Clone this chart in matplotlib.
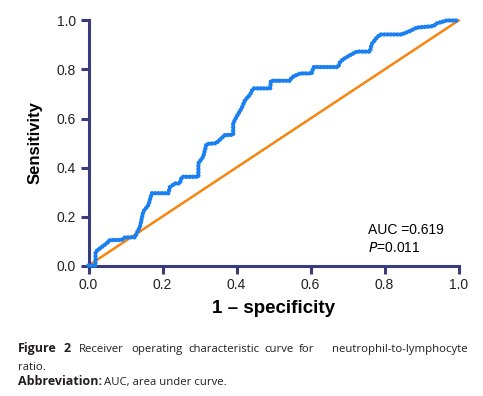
import matplotlib
matplotlib.use("Agg")
import matplotlib.pyplot as plt

# ROC curve points (1 - specificity, sensitivity)
fpr = [0.0, 0.019, 0.019, 0.031, 0.049, 0.058, 0.09, 0.099, 0.126, 0.13, 0.139, 0.148,
       0.162, 0.171, 0.216, 0.22, 0.234, 0.247, 0.252, 0.297, 0.297, 0.31, 0.319,
       0.345, 0.354, 0.369, 0.391, 0.391, 0.40, 0.414, 0.423, 0.436, 0.445, 0.491,
       0.493, 0.545, 0.549, 0.572, 0.603, 0.608, 0.675, 0.68, 0.693, 0.711, 0.725,
       0.761, 0.765, 0.779, 0.788, 0.846, 0.869, 0.887, 0.932, 0.941, 0.968, 1.0]
tpr = [0.0, 0.0, 0.056, 0.07, 0.09, 0.104, 0.104, 0.115, 0.115, 0.131, 0.158, 0.22,
       0.247, 0.295, 0.295, 0.32, 0.335, 0.335, 0.362, 0.362, 0.417, 0.444, 0.496,
       0.499, 0.512, 0.533, 0.533, 0.58, 0.607, 0.642, 0.675, 0.696, 0.723, 0.723,
       0.754, 0.754, 0.768, 0.784, 0.784, 0.81, 0.81, 0.832, 0.846, 0.862, 0.873,
       0.873, 0.903, 0.93, 0.943, 0.943, 0.957, 0.971, 0.977, 0.988, 1.0, 1.0]
ref_x = [0.0, 1.0]
ref_y = [0.0, 1.0]
ticks = [0.0, 0.2, 0.4, 0.6, 0.8, 1.0]
tick_labels = ["0.0", "0.2", "0.4", "0.6", "0.8", "1.0"]
auc_text = "AUC =0.619"
p_value = "0.011"

W, H = 483, 396
fig = plt.figure(figsize=(W / 100, H / 100), dpi=100)
plt.rcParams['font.family'] = ['Liberation Sans', 'DejaVu Sans']

ax = fig.add_axes([88.5 / W, 1 - 265.5 / H, 370 / W, 245 / H])
navy = "#3a3b7c"
blue = "#1a80f2"
orange = "#f5860f"

ax.plot(ref_x, ref_y, color=orange, lw=1.8, clip_on=False, zorder=2)
ax.plot(fpr, tpr, color=blue, lw=3.2, linestyle=(0, (0.01, 0.72)),
        dash_capstyle='round', solid_capstyle='round', clip_on=False, zorder=3)

ax.set_xlim(0, 1)
ax.set_ylim(0, 1)
ax.set_xticks(ticks)
ax.set_xticklabels(tick_labels)
ax.set_yticks(ticks)
ax.set_yticklabels(tick_labels)
for s in ["top", "right"]:
    ax.spines[s].set_visible(False)
for s in ["left", "bottom"]:
    ax.spines[s].set_color(navy)
    ax.spines[s].set_linewidth(2.2)
ax.tick_params(direction='out', length=6, width=2.2, color=navy,
               labelsize=10, labelcolor="#222222", pad=3)

ax.set_xlabel("1 \u2013 specificity", fontsize=13.5, fontweight='bold', labelpad=6)
ax.set_ylabel("Sensitivity", fontsize=12, fontweight='bold', labelpad=10)

ax.text(0.755, 0.145, auc_text, fontsize=10, transform=ax.transAxes, va='center')
ax.text(0.755, 0.07, "$\\mathit{P}$=" + p_value, fontsize=10, transform=ax.transAxes, va='center')

# Caption
cap_font = ['Open Sans', 'DejaVu Sans']
cap_y1 = 1 - 352 / H
fs = 8.2
fsb = 9
words = [("Figure", 18.3, 'bold'), ("2", 64, 'bold'), ("Receiver", 78.5, 'normal'),
         ("operating", 131, 'normal'), ("characteristic", 188.7, 'normal'), ("curve", 264.7, 'normal'),
         ("for", 299.3, 'normal'), ("neutrophil-to-lymphocyte", 332, 'normal')]
for w, x, wt in words:
    fig.text(x / W, cap_y1, w, fontsize=fsb if wt == 'bold' else fs, fontweight=wt,
             family=cap_font, va='baseline', color="#231f20")
fig.text(18.3 / W, 1 - 369.5 / H, "ratio.", fontsize=fs, family=cap_font, va='baseline', color="#231f20")
fig.text(18.3 / W, 1 - 385 / H, "Abbreviation:", fontsize=fsb, fontweight='bold', family=cap_font,
         va='baseline', color="#231f20")
fig.text(103.5 / W, 1 - 385 / H, "AUC, area under curve.", fontsize=fs, family=cap_font,
         va='baseline', color="#231f20")

fig.savefig("out.png", dpi=100)
